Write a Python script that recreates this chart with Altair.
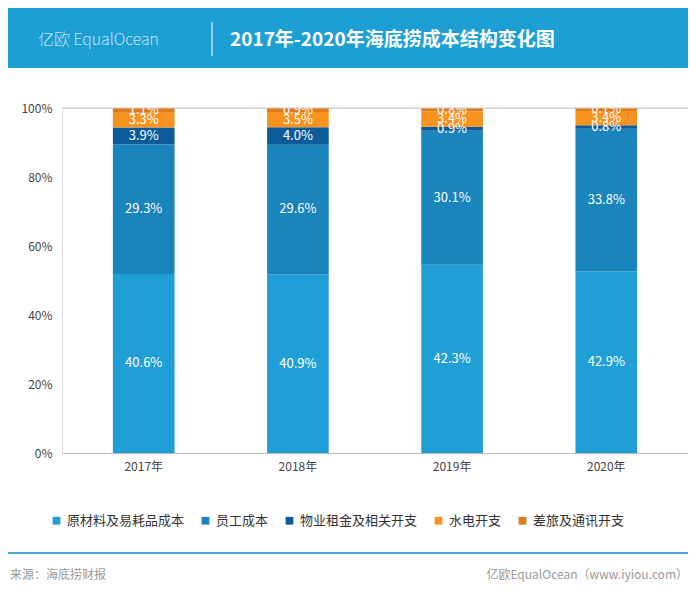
import altair as alt
import pandas as pd

years = ["2017年", "2018年", "2019年", "2020年"]
series = ["原材料及易耗品成本", "员工成本", "物业租金及相关开支", "水电开支", "差旅及通讯开支"]
values = {
    "原材料及易耗品成本": [40.6, 40.9, 42.3, 42.9],
    "员工成本": [29.3, 29.6, 30.1, 33.8],
    "物业租金及相关开支": [3.9, 4.0, 0.9, 0.8],
    "水电开支": [3.3, 3.5, 3.4, 3.4],
    "差旅及通讯开支": [1.1, 0.9, 0.8, 0.7],
}
colors = ["#1f9fd6", "#1a84bd", "#0d5c9a", "#f7931e", "#e07a1c"]

rows = []
for si, s in enumerate(series):
    for yi, y in enumerate(years):
        rows.append({"year": y, "series": s, "value": values[s][yi], "order": si,
                     "label": f"{values[s][yi]:.1f}%"})
df = pd.DataFrame(rows)

W, H = 626, 345
F = "Noto Sans CJK SC"

base = alt.Chart(df).transform_stack(
    stack="value", groupby=["year"], as_=["v0", "v1"], offset="normalize",
    sort=[alt.SortField("order", "ascending")]
).transform_calculate(mid="(datum.v0+datum.v1)/2")

xenc = alt.X("year:N", sort=years, title=None,
             scale=alt.Scale(paddingInner=0.6, paddingOuter=0.33),
             axis=alt.Axis(labelAngle=0, labelColor="#444", labelFontSize=12, labelFont=F,
                           domainColor="#bbb", ticks=False, labelPadding=8))

bars = base.mark_bar().encode(
    x=xenc,
    y=alt.Y("v0:Q", scale=alt.Scale(domain=[0, 1]), title=None,
            axis=alt.Axis(format="%", values=[0, .2, .4, .6, .8, 1], grid=False, domain=False,
                          ticks=False, labelColor="#444", labelFontSize=12, labelPadding=10)),
    y2="v1:Q",
    color=alt.Color("series:N", sort=series, scale=alt.Scale(domain=series, range=colors),
                    legend=alt.Legend(title=None, orient="none", legendX=-12, legendY=406,
                                      direction="horizontal", symbolType="square", symbolSize=60,
                                      labelFont=F, labelFontSize=13, labelColor="#333",
                                      columnPadding=14, symbolOffset=0)),
)
texts = base.mark_text(color="white", fontSize=13, font=F).encode(
    x=alt.X("year:N", sort=years), y="mid:Q", text="label:N")

toprule = alt.Chart(pd.DataFrame({"v": [1]})).mark_rule(color="#ccc").encode(y="v:Q")

hdr = pd.DataFrame({"a": [0]})
header = alt.Chart(hdr).mark_rect(color="#1e9fd4").encode(
    x=alt.value(-54), x2=alt.value(626), y=alt.value(-100), y2=alt.value(-40))
logo = alt.Chart(hdr).mark_text(text="亿欧 EqualOcean", color="white", fontSize=16, font=F,
                                fontWeight="lighter", align="left", baseline="middle").encode(
    x=alt.value(-24), y=alt.value(-68))
divider = alt.Chart(hdr).mark_rule(color="white").encode(
    x=alt.value(150), y=alt.value(-86), y2=alt.value(-52))
title = alt.Chart(hdr).mark_text(text="2017年-2020年海底捞成本结构变化图", color="white", fontSize=19,
                                 fontWeight="bold", font=F, align="left", baseline="middle").encode(
    x=alt.value(168), y=alt.value(-68))
footline = alt.Chart(hdr).mark_rule(color="#4aa8d8", strokeWidth=2).encode(
    x=alt.value(-54), x2=alt.value(626), y=alt.value(445))
src = alt.Chart(hdr).mark_text(text="来源：海底捞财报", color="#999", fontSize=12, font=F,
                               align="left", baseline="middle").encode(x=alt.value(-52), y=alt.value(467))
brand = alt.Chart(hdr).mark_text(text="亿欧EqualOcean（www.iyiou.com）", color="#999", fontSize=12, font=F,
                                 align="right", baseline="middle").encode(x=alt.value(626), y=alt.value(467))

chart = alt.layer(bars, texts, toprule, header, logo, divider, title, footline, src, brand).properties(
    width=W, height=H, autosize=alt.AutoSizeParams(type="none"),
    padding={"left": 54, "top": 100, "right": 0, "bottom": 130}
).configure_view(stroke=None).configure(font=F)

chart.save("out.html", embed_options={"renderer": "svg", "actions": False})
